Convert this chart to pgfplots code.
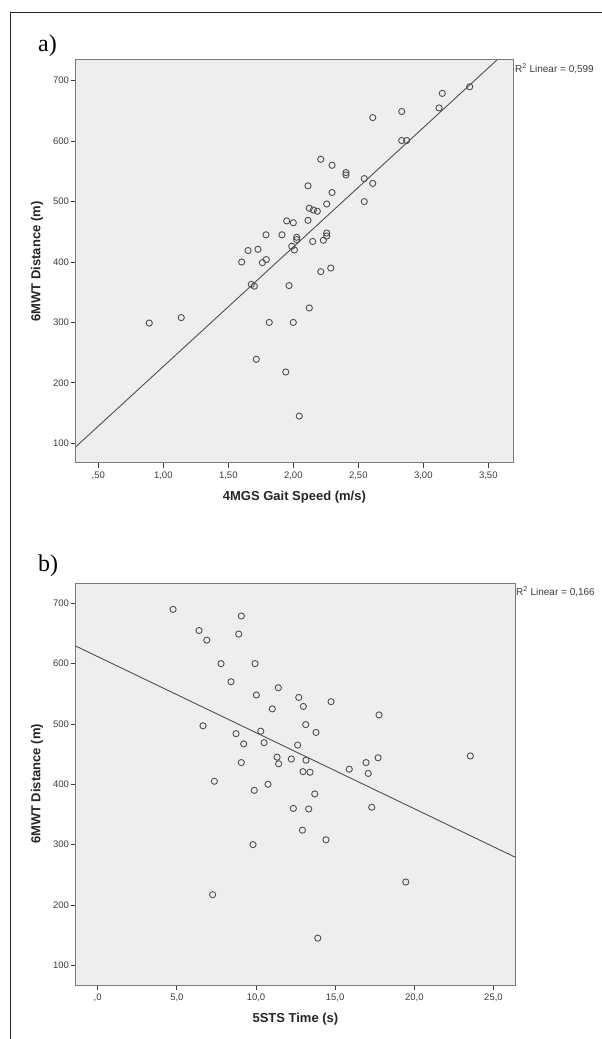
\documentclass[border=0pt]{standalone}
\usepackage{fontspec}
\setmainfont{Liberation Sans}
\newfontfamily\seriffont{Liberation Serif}
\usepackage{pgfplots}
\pgfplotsset{compat=1.18}

\definecolor{plotbg}{HTML}{EEEEEE}
\definecolor{axgray}{HTML}{7A7A7A}
\definecolor{markgray}{HTML}{505050}
\definecolor{labgray}{HTML}{3C3C3C}

\pgfplotstableread{
x y
0.892 299
1.138 308
1.603 400
1.652 419
1.677 363
1.700 360
1.715 239
1.728 421
1.762 399
1.790 445
1.792 404
1.815 300
1.913 445
1.942 218
1.949 468
1.967 361
1.988 426
2.000 465
2.000 300
2.008 420
2.026 441
2.026 437
2.046 145
2.113 526
2.113 469
2.123 489
2.123 324
2.149 434
2.154 486
2.185 484
2.211 570
2.211 384
2.231 436
2.257 496
2.257 448
2.257 443
2.288 390
2.298 560
2.298 515
2.405 548
2.405 544
2.546 538
2.546 500
2.611 639
2.611 530
2.834 649
2.834 601
2.872 601
3.121 655
3.146 679
3.357 690
}\gaitdata

\pgfplotstableread{
x y
4.76 690
6.40 655
6.65 497
6.89 639
7.26 217
7.37 405
7.79 600
8.42 570
8.74 484
8.91 649
9.07 679
9.07 436
9.22 467
9.81 300
9.89 390
9.94 600
10.02 548
10.30 488
10.51 469
10.76 400
11.03 525
11.33 445
11.41 560
11.43 434
12.23 442
12.36 360
12.63 465
12.70 544
12.93 324
12.97 421
12.99 529
13.14 499
13.16 440
13.33 359
13.41 420
13.71 384
13.79 486
13.90 145
14.42 308
14.74 537
15.89 425
16.95 436
17.09 418
17.31 362
17.71 444
17.77 515
19.46 238
23.54 447
}\stsdata

\pgfplotsset{
  spssbox/.style={
    scale only axis,
    axis background/.style={fill=plotbg},
    axis line style={axgray, line width=1pt},
    tick align=outside, tick pos=left,
    major tick length=5pt,
    tick style={labgray, line width=0.8pt},
    ticklabel style={font=\fontsize{9.5}{11}\selectfont, text=labgray},
    /pgf/number format/assume math mode=true,
    ytick={100,200,...,700},
    yticklabel style={inner sep=1.5pt},
  },
  dots/.style={only marks, mark=o, mark size=3.1pt,
    mark options={draw=markgray, line width=0.9pt}},
  fitline/.style={markgray, line width=0.9pt, no marks},
}

\begin{document}
\begin{tikzpicture}
\path[use as bounding box] (0pt,0pt) rectangle (602pt,1039pt);
\draw[black!85, line width=1pt] (10pt,0pt) -- (10pt,1026pt) -- (602pt,1026pt);

% a) gait speed
\begin{axis}[spssbox,
  at={(75.7pt,576pt)}, anchor=south west,
  width=437.3pt, height=403pt,
  xmin=0.326, xmax=3.69, ymin=67.4, ymax=734.3,
  xtick={0.5,1,1.5,2,2.5,3,3.5},
  xticklabels={{,50},{1,00},{1,50},{2,00},{2,50},{3,00},{3,50}},
]
\addplot[fitline] coordinates {(0.326,94) (3.565,734)};
\addplot[dots] table[x=x,y=y] {\gaitdata};
\end{axis}

% b) sit to stand
\begin{axis}[spssbox,
  at={(75.7pt,54pt)}, anchor=south west,
  width=439.3pt, height=401.7pt,
  xmin=-1.39, xmax=26.36, ymin=67.3, ymax=733.2,
  xtick={0,5,10,15,20,25},
  xticklabels={{,0},{5,0},{10,0},{15,0},{20,0},{25,0}},
]
\addplot[fitline] coordinates {(-1.39,629.2) (26.36,279.3)};
\addplot[dots] table[x=x,y=y] {\stsdata};
\end{axis}

% panel letters
\node[anchor=base west, inner sep=0pt, font=\seriffont\fontsize{24}{24}\selectfont] at (38pt,987pt) {a)};
\node[anchor=base west, inner sep=0pt, font=\seriffont\fontsize{24}{24}\selectfont] at (38pt,467pt) {b)};

% axis titles
\node[rotate=90, font=\bfseries\fontsize{13}{15}\selectfont, text=black!85] at (37pt,777.5pt) {6MWT Distance (m)};
\node[rotate=90, font=\bfseries\fontsize{13}{15}\selectfont, text=black!85] at (37pt,255pt) {6MWT Distance (m)};
\node[font=\bfseries\fontsize{13}{15}\selectfont, text=black!85] at (294.4pt,542pt) {4MGS Gait Speed (m/s)};
\node[font=\bfseries\fontsize{13}{15}\selectfont, text=black!85] at (295.4pt,20pt) {5STS Time (s)};

% fit statistics
\node[anchor=west, inner sep=1pt, font=\fontsize{10}{12}\selectfont, text=labgray] at (514pt,970pt) {R\textsuperscript{2} Linear = 0,599};
\node[anchor=west, inner sep=1pt, font=\fontsize{10}{12}\selectfont, text=labgray] at (515pt,447pt) {R\textsuperscript{2} Linear = 0,166};
\end{tikzpicture}
\end{document}
